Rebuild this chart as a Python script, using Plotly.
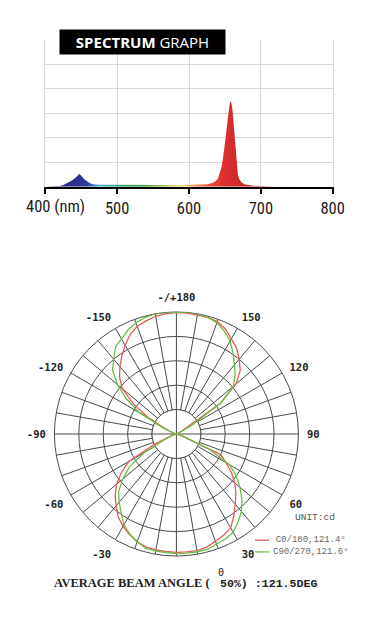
import plotly.graph_objects as go

W, H = 386, 629
W_EFF = 371  # width the page actually lays the figure out at in this viewer


def px(x):
    return x / W_EFF


def py(y):
    return 1 - y / H


# ---------------- spectrum data ----------------
wavelength = [400, 410, 420, 425, 430, 437, 441, 444.5, 447.5, 450.5, 455, 462, 468, 475,
              490, 510, 530, 550, 570, 590, 600, 610, 615, 620, 626, 633, 637, 640, 643, 645,
              647, 649, 651, 653, 655, 657, 658, 659, 660.5, 662, 664, 666, 668, 670, 673,
              677, 682, 690, 700, 720, 750, 800]
intensity = [0.0, 0.005, 0.03, 0.07, 0.14, 0.25, 0.35, 0.45, 0.52, 0.43, 0.28, 0.14, 0.09, 0.075,
             0.07, 0.07, 0.07, 0.07, 0.07, 0.07, 0.07, 0.07, 0.075, 0.085, 0.1, 0.16, 0.22, 0.31, 0.55, 0.78,
             1.1, 1.5, 2.0, 2.55, 3.05, 3.45, 3.5, 3.42, 3.15, 2.6, 1.7, 0.95, 0.5, 0.3, 0.17,
             0.1, 0.07, 0.04, 0.03, 0.015, 0.005, 0.0]
spectrum_ticks = [400, 500, 600, 700, 800]
spectrum_ticktext = ["", "500", "600", "700", "800"]
spectrum_grid = [0, 1, 2, 3, 4, 5, 6]

spectrum_colors = [
    [0.0, "#2b2a7e"], [0.10, "#2e2f8c"], [0.14, "#2d3a9a"], [0.16, "#2a6fbf"],
    [0.18, "#3bb0d0"], [0.22, "#3aa8a0"], [0.27, "#2e9a5a"], [0.33, "#3a9a3a"],
    [0.40, "#9cc04a"], [0.45, "#f0e070"], [0.50, "#f0a050"], [0.55, "#e8503a"],
    [0.60, "#e03030"], [0.66, "#c82828"], [0.72, "#c83a3a"], [0.76, "#f0b8b8"],
    [0.85, "#f8e4e4"], [1.0, "#ffffff"],
]

# ---------------- beam data ----------------
beam_theta = list(range(0, 360, 5))
beam_c0 = [
    0.97, 0.97, 0.97, 0.96, 0.935, 0.915, 0.89, 0.82, 0.75, 0.69, 0.625, 0.55, 0.47, 0.40, 0.05, 0.02, 0, 0, 0,
    0, 0, 0, 0, 0.02, 0.05, 0.44, 0.64, 0.74, 0.80, 0.86, 0.90, 0.95, 0.98, 0.99, 0.99, 0.995,
    0.995, 0.99, 0.98, 0.96, 0.94, 0.90, 0.84, 0.78, 0.72, 0.66, 0.58, 0.43, 0.26, 0.10, 0.03, 0, 0, 0,
    0, 0, 0, 0.02, 0.05, 0.20, 0.45, 0.55, 0.64, 0.71, 0.77, 0.83, 0.875, 0.91, 0.94, 0.96, 0.965, 0.965,
]
beam_c90 = [
    0.98, 0.98, 0.98, 0.98, 0.96, 0.95, 0.93, 0.88, 0.83, 0.76, 0.68, 0.60, 0.50, 0.30, 0.08, 0.02, 0, 0, 0,
    0, 0, 0, 0, 0.04, 0.15, 0.45, 0.61, 0.68, 0.74, 0.81, 0.88, 0.93, 0.97, 0.99, 1.0, 1.0,
    1.0, 1.0, 1.0, 0.99, 0.97, 0.94, 0.90, 0.87, 0.80, 0.74, 0.63, 0.50, 0.35, 0.12, 0.03, 0, 0, 0,
    0, 0, 0, 0, 0.03, 0.10, 0.30, 0.47, 0.575, 0.67, 0.73, 0.79, 0.86, 0.905, 0.94, 0.97, 0.975, 0.975,
]
beam_names = ["C0/180,121.4°", "C90/270,121.6°"]
beam_colors = ["#e35b5b", "#6cbf45"]
angle_ticks = list(range(0, 360, 10))
angle_label_map = {30: "30", 60: "60", 90: "90", 120: "120", 150: "150", 180: "-/+180",
                   210: "-150", 240: "-120", 270: "-90", 300: "-60", 330: "-30"}
angle_ticktext = [angle_label_map.get(a, "") for a in angle_ticks]
ring_vals = [0.2, 0.4, 0.6, 0.8, 1.0]
inner_ring = 0.2

GRID = "#4a4a4a"


def cond(t):
    return '<span style="font-stretch:condensed">' + t + "</span>" if t else t


fig = go.Figure()

fig.add_trace(go.Scatter(
    x=wavelength, y=intensity, mode="lines", line=dict(width=0, color="#c82828"),
    fill="tozeroy",
    fillgradient=dict(type="horizontal", colorscale=spectrum_colors, start=400, stop=800),
    hoverinfo="skip", showlegend=False, xaxis="x", yaxis="y"))

disk_theta = beam_theta + [360]
fig.add_trace(go.Scatterpolar(
    r=[inner_ring] * len(disk_theta), theta=disk_theta, mode="lines",
    fill="toself", fillcolor="white", line=dict(color=GRID, width=1),
    hoverinfo="skip", showlegend=False, subplot="polar"))
fig.add_trace(go.Scatterpolar(
    r=[inner_ring, inner_ring], theta=[0, 180], mode="lines",
    line=dict(color=GRID, width=1), hoverinfo="skip", showlegend=False, subplot="polar"))
fig.add_trace(go.Scatterpolar(
    r=[inner_ring, inner_ring], theta=[90, 270], mode="lines",
    line=dict(color=GRID, width=1), hoverinfo="skip", showlegend=False, subplot="polar"))

for vals, name, col in zip([beam_c0, beam_c90], beam_names, beam_colors):
    fig.add_trace(go.Scatterpolar(
        r=vals + [vals[0]], theta=beam_theta + [360], mode="lines", name=name,
        line=dict(color=col, width=1.3), showlegend=False, subplot="polar"))

TICKFONT = dict(family="Roboto Condensed, Roboto, sans-serif", size=16.5, color="#1a1a1a")

fig.update_layout(
    width=W, height=H, margin=dict(l=0, r=0, t=0, b=0), autosize=False,
    paper_bgcolor="white", plot_bgcolor="white",
    showlegend=False,
    xaxis=dict(domain=[px(45), px(330)], range=[400, 800], tickmode="array",
               tickvals=spectrum_ticks, ticktext=[cond(t) for t in spectrum_ticktext],
               ticks="outside", ticklen=6, tickwidth=1.5, tickcolor="black",
               showline=True, linecolor="black", linewidth=1.5,
               showgrid=True, gridcolor="#d9d9d9", gridwidth=1, zeroline=False,
               tickfont=TICKFONT, anchor="y", fixedrange=True),
    yaxis=dict(domain=[py(186.7), py(40)], range=[0, 6], tickmode="array", tickvals=spectrum_grid,
               showticklabels=False, ticks="", showgrid=True, gridcolor="#d9d9d9", gridwidth=1,
               zeroline=False, showline=True, linecolor="#d9d9d9", linewidth=1, mirror=True,
               anchor="x", fixedrange=True),
    polar=dict(
        domain=dict(x=[px(53), px(297)], y=[py(556), py(312)]),
        bgcolor="white",
        angularaxis=dict(rotation=-90, direction="counterclockwise", tickmode="array",
                         tickvals=angle_ticks, ticktext=angle_ticktext,
                         showline=True, linecolor=GRID, linewidth=1,
                         showgrid=True, gridcolor=GRID, gridwidth=1,
                         ticks="outside", ticklen=6, tickcolor="rgba(0,0,0,0)",
                         layer="below traces",
                         tickfont=dict(family="DejaVu Sans Mono", size=10.5, color="#222",
                                       weight="bold")),
        radialaxis=dict(range=[0, 1], tickmode="array", tickvals=ring_vals,
                        showticklabels=False, ticks="", showline=False,
                        showgrid=True, gridcolor=GRID, gridwidth=1, layer="below traces"),
    ),
)


def note(text, x, y, font, xanchor="center", yanchor="middle", **kw):
    return dict(text=text, x=px(x), y=py(y), xref="paper", yref="paper", showarrow=False,
                xanchor=xanchor, yanchor=yanchor, font=font, **kw)


ann = []
ann.append(note("<b>SPECTRUM</b> GRAPH", 141.5, 42,
                dict(family="Open Sans", size=15, color="white"),
                bgcolor="black", width=163, height=22, borderpad=1))
ann.append(note(cond("400 (nm)"), 55.5, 206, TICKFONT))
ann.append(note("UNIT:cd", 312, 517, dict(family="Liberation Mono", size=9.5, color="#555")))
ann.append(note("<br>".join(beam_names), 269, 546, dict(family="Liberation Mono", size=9, color="#666"),
                xanchor="left"))
for i, col in enumerate(beam_colors):
    yy = 540.2 + 11.7 * i
    fig.add_shape(type="line", xref="paper", yref="paper", x0=px(253), x1=px(267),
                  y0=py(yy), y1=py(yy), line=dict(color=col, width=1.3))
ann.append(note("AVERAGE BEAM ANGLE (", 210, 583,
                dict(family="Liberation Serif", size=12.5, color="#222", weight="bold"),
                xanchor="right"))
ann.append(note("50%) :121.5DEG", 216, 583,
                dict(family="Liberation Mono", size=11.6, color="#222", weight="bold"),
                xanchor="left"))
ann.append(note("0", 219, 572, dict(family="DejaVu Sans Mono", size=10, color="#222")))
fig.update_layout(annotations=ann)

post = ("document.documentElement.style.overflow='hidden';"
        "document.body.style.overflow='hidden';"
        "document.body.style.margin='0px';")
fig.write_html("out.html", config={"displayModeBar": False, "responsive": False}, post_script=post)
